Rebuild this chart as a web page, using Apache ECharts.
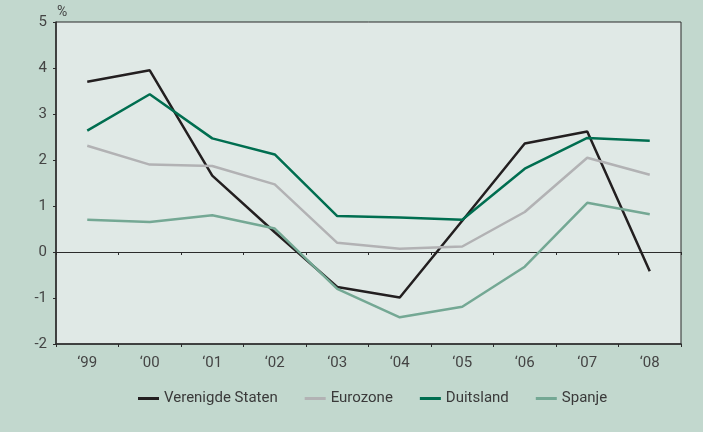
<!DOCTYPE html>
<html>
<head>
<meta charset="utf-8">
<script src="https://cdn.jsdelivr.net/npm/echarts@6/dist/echarts.min.js"></script>
<style>
  html, body { margin: 0; padding: 0; background: #c2d8ce; }
  #chart { width: 703px; height: 432px; }
</style>
</head>
<body>
<div id="chart"></div>
<script>
const years = ['\u201899', '\u201800', '\u201801', '\u201802', '\u201803', '\u201804', '\u201805', '\u201806', '\u201807', '\u201808']
const verenigdeStaten = [3.7, 3.95, 1.66, 0.43, -0.76, -0.99, 0.68, 2.36, 2.62, -0.42]
const eurozone = [2.31, 1.9, 1.87, 1.47, 0.2, 0.07, 0.12, 0.87, 2.05, 1.68]
const duitsland = [2.64, 3.43, 2.47, 2.12, 0.78, 0.75, 0.7, 1.81, 2.48, 2.42]
const spanje = [0.7, 0.65, 0.8, 0.51, -0.8, -1.42, -1.19, -0.32, 1.07, 0.82]

const chart = echarts.init(document.getElementById('chart'))
const font = 'Roboto'

const line = (name, data, color) => ({
  name,
  type: 'line',
  data,
  xAxisIndex: 0,
  symbol: 'none',
  lineStyle: { color, width: 2.5 },
  itemStyle: { color },
  animation: false
})

chart.setOption({
  backgroundColor: '#c2d8ce',
  textStyle: { fontFamily: font },
  grid: {
    left: 56,
    right: 22,
    top: 22,
    bottom: 88,
    show: true,
    backgroundColor: '#e0e9e6',
    borderColor: '#2b2b2b',
    borderWidth: 1
  },
  legend: {
    bottom: 21,
    left: 133,
    icon: 'rect',
    itemWidth: 21,
    itemHeight: 3,
    itemGap: 27,
    itemStyle: { borderWidth: 0 },
    textStyle: { color: '#3a3a3a', fontSize: 15, fontFamily: font },
    data: ['Verenigde Staten', 'Eurozone', 'Duitsland', 'Spanje']
  },
  xAxis: [
    {
      type: 'category',
      data: years,
      boundaryGap: true,
      axisLine: { onZero: false, lineStyle: { color: '#2b2b2b', width: 1.5 } },
      axisTick: { show: true, length: 3, lineStyle: { color: '#2b2b2b' } },
      axisLabel: { color: '#444', fontSize: 15, margin: 12, fontFamily: font },
      splitLine: { show: false }
    },
    {
      type: 'category',
      data: years,
      position: 'bottom',
      boundaryGap: true,
      axisLine: { onZero: true, lineStyle: { color: '#2b2b2b', width: 1.2 } },
      axisTick: { show: true, length: 3, lineStyle: { color: '#2b2b2b' } },
      axisLabel: { show: false },
      splitLine: { show: false }
    }
  ],
  yAxis: {
    type: 'value',
    min: -2,
    max: 5,
    interval: 1,
    name: '%',
    nameLocation: 'end',
    nameGap: 3,
    nameTextStyle: { color: '#444', fontSize: 14, align: 'left', padding: [0, 0, 0, 1] },
    axisLine: { show: true, lineStyle: { color: '#2b2b2b', width: 1.5 } },
    axisTick: { show: true, length: 3, lineStyle: { color: '#2b2b2b' } },
    axisLabel: { color: '#444', fontSize: 15, margin: 9, fontFamily: font },
    splitLine: { show: false }
  },
  series: [
    line('Verenigde Staten', verenigdeStaten, '#231f20'),
    line('Eurozone', eurozone, '#b2b2b4'),
    line('Duitsland', duitsland, '#006e50'),
    line('Spanje', spanje, '#74a894')
  ]
})
</script>
</body>
</html>
